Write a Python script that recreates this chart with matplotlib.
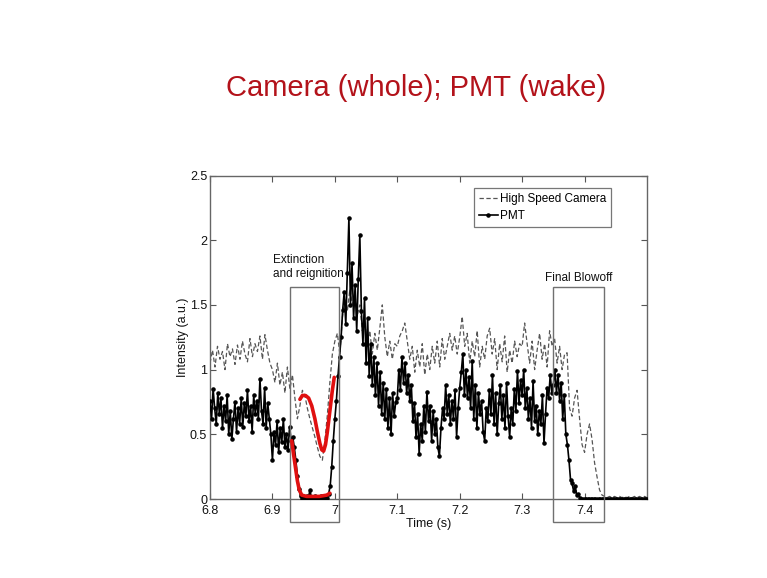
import numpy as np
import matplotlib
matplotlib.use("Agg")
import matplotlib.pyplot as plt
from matplotlib.patches import Rectangle

# ---------------- data ----------------
pmt_t0, pmt_dt = 6.8, 0.0025
pmt_values = [
    0.76, 0.62, 0.85, 0.70, 0.58, 0.82, 0.66, 0.78, 0.55, 0.72, 0.60, 0.80, 0.50, 0.68, 0.46, 0.62, 0.75, 0.52, 0.70, 0.58,
    0.78, 0.56, 0.74, 0.64, 0.84, 0.60, 0.72, 0.52, 0.80, 0.66, 0.76, 0.62, 0.93, 0.68, 0.58, 0.86, 0.55, 0.74, 0.62, 0.50,
    0.30, 0.52, 0.42, 0.60, 0.36, 0.55, 0.44, 0.62, 0.40, 0.50, 0.38, 0.56, 0.45, 0.48, 0.40, 0.30, 0.18, 0.08, 0.02, 0.00,
    0.01, 0.00, 0.02, 0.00, 0.07, 0.01, 0.00, 0.02, 0.00, 0.01, 0.00, 0.02, 0.00, 0.01, 0.00, 0.01, 0.04, 0.10, 0.25, 0.45,
    0.62, 0.76, 0.95, 1.10, 1.25, 1.46, 1.60, 1.35, 1.75, 2.17, 1.50, 1.82, 1.40, 1.65, 1.30, 1.70, 2.04, 1.45, 1.20, 1.55,
    1.05, 1.40, 0.95, 1.20, 0.88, 1.10, 0.80, 1.05, 0.72, 0.98, 0.66, 0.90, 0.62, 0.85, 0.55, 0.78, 0.50, 0.82, 0.64, 0.75,
    0.78, 1.00, 0.84, 1.10, 0.90, 1.05, 0.82, 0.96, 0.76, 0.88, 0.60, 0.74, 0.48, 0.66, 0.35, 0.58, 0.45, 0.72, 0.52, 0.83,
    0.60, 0.72, 0.45, 0.68, 0.50, 0.62, 0.40, 0.33, 0.55, 0.70, 0.62, 0.88, 0.66, 0.80, 0.58, 0.76, 0.62, 0.84, 0.48, 0.70,
    0.86, 0.98, 1.12, 0.80, 1.00, 0.78, 0.94, 0.70, 1.07, 0.62, 0.88, 0.55, 0.82, 0.66, 0.76, 0.52, 0.45, 0.70, 0.60, 0.84,
    0.66, 0.96, 0.58, 0.82, 0.50, 0.74, 0.88, 0.62, 0.80, 0.55, 0.90, 0.64, 0.48, 0.70, 0.58, 0.85, 0.68, 0.99, 0.74, 0.92,
    0.80, 1.00, 0.70, 0.86, 0.62, 0.78, 0.55, 0.91, 0.60, 0.72, 0.50, 0.68, 0.58, 0.80, 0.43, 0.66, 0.86, 0.78, 0.96, 0.82,
    0.88, 1.00, 0.82, 0.96, 0.76, 0.90, 0.62, 0.80, 0.50, 0.42, 0.30, 0.15, 0.12, 0.06, 0.10, 0.03, 0.04, 0.01, 0.00, 0.00,
    0.00, 0.00, 0.00, 0.00, 0.00, 0.00, 0.00, 0.00, 0.00, 0.00, 0.00, 0.00, 0.00, 0.00, 0.00, 0.00, 0.00, 0.00, 0.00, 0.00,
    0.00, 0.00, 0.00, 0.00, 0.00, 0.00, 0.00, 0.00, 0.00, 0.00, 0.00, 0.00, 0.00, 0.00, 0.00, 0.00, 0.00, 0.00, 0.00, 0.00,
    0.00,
]

cam_t0, cam_dt = 6.8, 0.004
camera_values = [
    1.05, 1.15, 1.02, 1.18, 1.08, 1.14, 1.00, 1.20, 1.10, 1.16, 1.04, 1.19, 1.08, 1.22, 1.12, 1.06, 1.24, 1.10, 1.20, 1.14, 1.26, 1.08, 1.27, 1.15, 1.05,
    1.00, 0.90, 1.05, 0.88, 0.98, 0.82, 1.02, 0.85, 0.96, 0.78, 0.62, 0.72, 0.84, 0.80, 0.70, 0.62, 0.55, 0.48, 0.40, 0.33, 0.30, 0.45, 0.65, 0.90, 1.12,
    1.22, 1.28, 1.12, 1.40, 1.55, 1.45, 1.62, 1.50, 1.58, 1.42, 1.50, 1.30, 1.38, 1.18, 1.30, 1.12, 1.28, 1.15, 1.32, 1.50, 1.25, 1.10, 1.22, 1.08, 1.20,
    1.18, 1.26, 1.30, 1.36, 1.22, 1.08, 1.18, 0.98, 1.15, 1.02, 1.20, 0.96, 1.12, 1.00, 1.18, 1.05, 1.22, 1.02, 1.24, 1.08, 1.18, 1.28, 1.15, 1.26, 1.12,
    1.25, 1.41, 1.18, 1.28, 1.05, 1.22, 1.10, 1.30, 1.02, 1.18, 1.08, 1.26, 1.32, 1.12, 1.24, 1.00, 1.20, 1.06, 1.26, 0.98, 1.15, 1.05, 1.22, 1.10, 1.20,
    1.18, 1.36, 1.20, 1.05, 1.22, 1.00, 1.15, 1.28, 1.08, 1.20, 1.02, 1.30, 1.18, 1.24, 1.05, 1.18, 1.00, 1.12, 1.13, 0.70, 0.64, 0.78, 0.84, 0.62, 0.42,
    0.36, 0.50, 0.58, 0.46, 0.28, 0.17, 0.07, 0.03, 0.02, 0.01, 0.02, 0.01, 0.02, 0.01, 0.02, 0.01, 0.02, 0.01, 0.02, 0.01, 0.02, 0.01, 0.02, 0.01, 0.02,
    0.01,
]

# hand-drawn red annotation curves
red_upper_t = [6.944, 6.948, 6.953, 6.958, 6.963, 6.968, 6.972, 6.976, 6.979, 6.982, 6.985, 6.988, 6.992, 6.996, 6.999]
red_upper_v = [0.77, 0.80, 0.80, 0.78, 0.72, 0.62, 0.52, 0.43, 0.38, 0.37, 0.42, 0.52, 0.68, 0.84, 0.94]
red_lower_t = [6.931, 6.934, 6.937, 6.940, 6.943, 6.947, 6.955, 6.966, 6.975, 6.981, 6.987, 6.992]
red_lower_v = [0.45, 0.34, 0.24, 0.14, 0.07, 0.03, 0.02, 0.02, 0.02, 0.025, 0.03, 0.045]

# annotation boxes (t0, t1, v0, v1)
box_extinction = (6.928, 7.006, -0.177, 1.638)
box_blowoff = (7.349, 7.431, -0.177, 1.638)

x_ticks = [6.8, 6.9, 7.0, 7.1, 7.2, 7.3, 7.4]
x_tick_labels = ["6.8", "6.9", "7", "7.1", "7.2", "7.3", "7.4"]
y_ticks = [0, 0.5, 1.0, 1.5, 2.0, 2.5]
y_tick_labels = ["0", "0.5", "1", "1.5", "2", "2.5"]

plt.rcParams["font.family"] = ["Liberation Sans", "DejaVu Sans"]

# ---------------- figure ----------------
W, H = 767, 578
fig = plt.figure(figsize=(W / 100, H / 100), dpi=100)
fig.patch.set_facecolor("white")
ax = fig.add_axes([210 / W, 1 - 499 / H, (647 - 210) / W, (499 - 175.5) / H])

pmt_t = pmt_t0 + pmt_dt * np.arange(len(pmt_values))
cam_t = cam_t0 + cam_dt * np.arange(len(camera_values))

ax.plot(cam_t, camera_values, linestyle=(0, (3.5, 2)), color="#555555", lw=0.9,
        label="High Speed Camera", zorder=2)
ax.plot(pmt_t, pmt_values, "-", color="black", lw=1.2, marker=".", ms=4.5,
        label="PMT", zorder=3)

ax.plot(red_upper_t, red_upper_v, color="#e01010", lw=2.6, solid_capstyle="round", zorder=5)
ax.plot(red_lower_t, red_lower_v, color="#e01010", lw=2.6, solid_capstyle="round", zorder=5)

for (t0, t1, v0, v1) in (box_extinction, box_blowoff):
    ax.add_patch(Rectangle((t0, v0), t1 - t0, v1 - v0, fill=False, ec="#707070",
                           lw=1.0, clip_on=False, zorder=4))

ax.text(6.901, 1.69, "Extinction\nand reignition", fontsize=8.5, ha="left", va="bottom",
        linespacing=1.3, color="#111111")
ax.text(7.39, 1.665, "Final Blowoff", fontsize=8.5, ha="center", va="bottom", color="#111111")

ax.set_xlim(6.8, 7.5)
ax.set_ylim(0, 2.5)
ax.set_xticks(x_ticks)
ax.set_xticklabels(x_tick_labels)
ax.set_yticks(y_ticks)
ax.set_yticklabels(y_tick_labels)
ax.tick_params(direction="in", top=True, right=True, length=4, width=0.8,
               labelsize=9, colors="#555555", labelcolor="#111111", pad=2)
ax.tick_params(axis="x", pad=4)
for s in ax.spines.values():
    s.set_color("#666666")
    s.set_linewidth(1.0)

ax.set_xlabel("Time (s)", fontsize=9, labelpad=1, color="#111111")
ax.set_ylabel("Intensity (a.u.)", fontsize=9, labelpad=1, color="#111111")

leg = ax.legend(loc="upper right", bbox_to_anchor=(0.918, 0.961), fontsize=8.5,
                frameon=True, fancybox=False, handlelength=1.6, handletextpad=0.15,
                borderpad=0.45, labelspacing=0.4, borderaxespad=0)
leg.get_frame().set_edgecolor("#555555")
leg.get_frame().set_linewidth(0.9)

fig.text(416 / W, 1 - 88 / H, "Camera (whole); PMT (wake)", fontsize=21, color="#b3121a",
         ha="center", va="center")

fig.savefig("out.png", dpi=100, facecolor="white")
